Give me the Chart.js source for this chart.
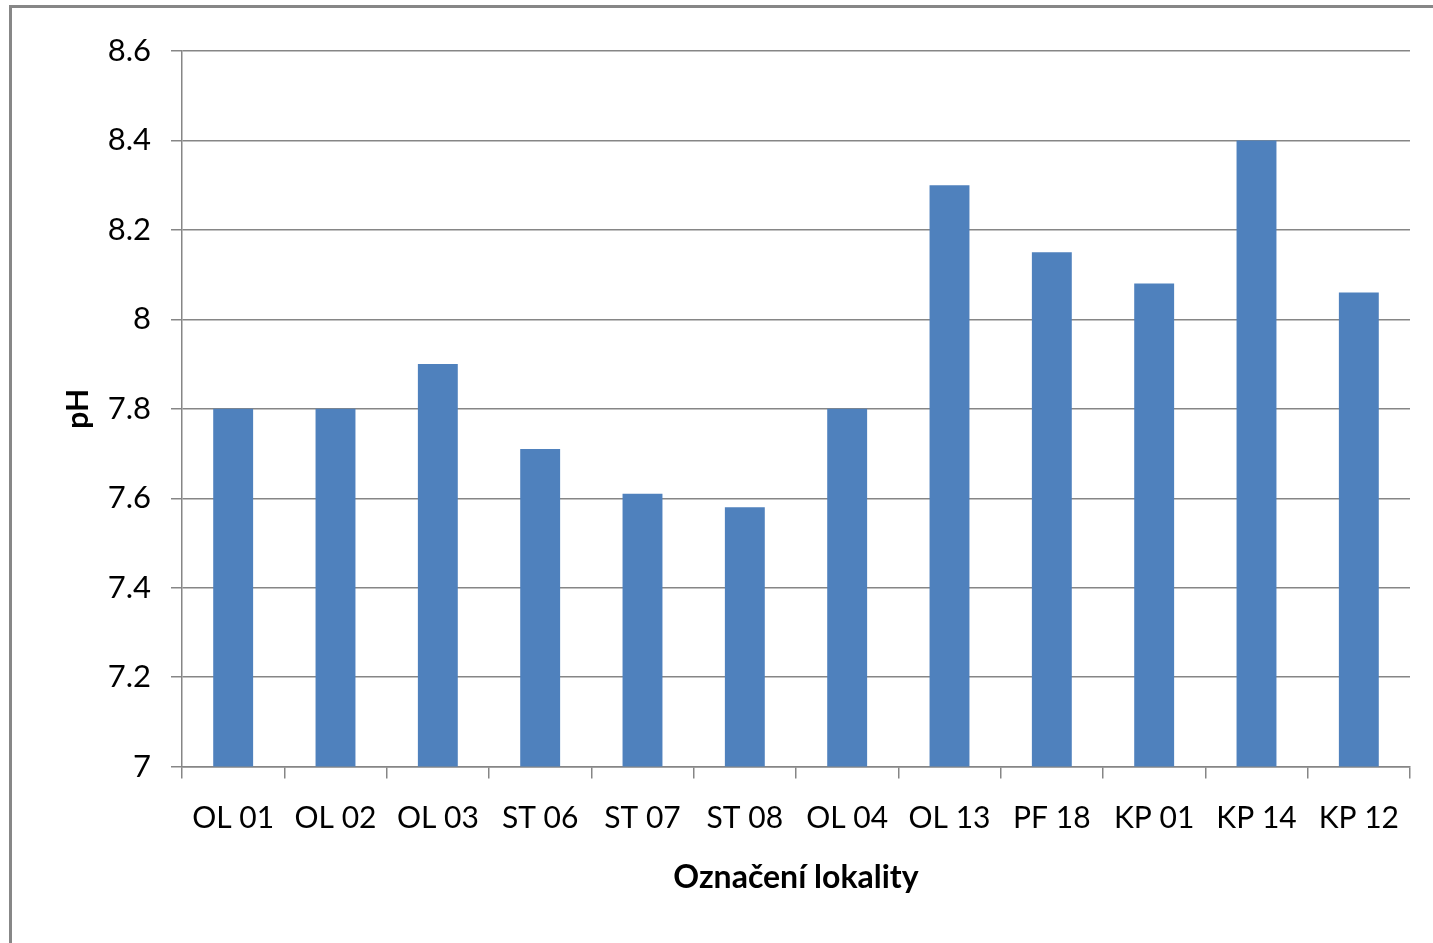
<!DOCTYPE html>
<html>
<head>
<meta charset="utf-8">
<script src="https://cdn.jsdelivr.net/npm/chart.js@4"></script>
<style>
  body { margin: 0; background: #fff; }
  #wrap { position: relative; width: 1433px; height: 943px; }
  #frame { position: absolute; left: 9px; top: 5px; right: -10px; bottom: -10px; border-left: 3px solid #878787; border-top: 3px solid #878787; }
  canvas { position: absolute; left: 0; top: 0; }
</style>
</head>
<body>
<div id="wrap">
  <div id="frame"></div>
  <canvas id="phChart" width="1433" height="943"></canvas>
</div>
<script>
const locations = ['OL 01', 'OL 02', 'OL 03', 'ST 06', 'ST 07', 'ST 08', 'OL 04', 'OL 13', 'PF 18', 'KP 01', 'KP 14', 'KP 12'];
const phValues = [7.8, 7.8, 7.9, 7.71, 7.61, 7.58, 7.8, 8.3, 8.15, 8.08, 8.4, 8.06];
const yMin = 7;
const yMax = 8.6;
const yStep = 0.2;

const font = 'Lato, "Open Sans", sans-serif';
const gridColor = '#868686';

const ctx = document.getElementById('phChart').getContext('2d');
const phChart = new Chart(ctx, {
    type: 'bar',
    data: {
        labels: locations,
        datasets: [{
            label: 'pH',
            data: phValues,
            backgroundColor: '#4F81BD',
            borderWidth: 0,
            barPercentage: 0.39,
            categoryPercentage: 1
        }]
    },
    options: {
        responsive: false,
        animation: false,
        layout: {
            padding: { left: 0, top: 51, right: 23, bottom: 46 }
        },
        plugins: {
            legend: { display: false },
            tooltip: { enabled: false }
        },
        scales: {
            x: {
                grid: {
                    drawOnChartArea: false,
                    drawTicks: true,
                    tickLength: 12,
                    color: gridColor,
                    lineWidth: 1.5
                },
                border: { color: gridColor, width: 1.5 },
                ticks: {
                    padding: 22,
                    color: '#000',
                    font: { family: font, size: 30 },
                    maxRotation: 0
                },
                title: {
                    display: true,
                    text: 'Označení lokality',
                    color: '#000',
                    font: { family: font, size: 32, weight: 'bold' },
                    padding: { top: 0, bottom: 0 }
                }
            },
            y: {
                min: yMin,
                max: yMax,
                afterFit: function(scale) { scale.width = 182; },
                afterBuildTicks: function(scale) {
                    const ticks = [];
                    for (let v = yMin; v <= yMax + 1e-9; v += yStep) ticks.push({ value: Math.round(v * 10) / 10 });
                    scale.ticks = ticks;
                },
                grid: {
                    color: gridColor,
                    lineWidth: 1.5,
                    tickLength: 11
                },
                border: { color: gridColor, width: 1.5 },
                ticks: {
                    padding: 20,
                    color: '#000',
                    font: { family: font, size: 31 },
                    callback: function(value) { return String(Math.round(value * 10) / 10); }
                },
                title: {
                    display: true,
                    text: 'pH',
                    color: '#000',
                    font: { family: font, size: 30, weight: 'bold' },
                    padding: { top: 60, bottom: 0 }
                }
            }
        }
    }
});
</script>
</body>
</html>
